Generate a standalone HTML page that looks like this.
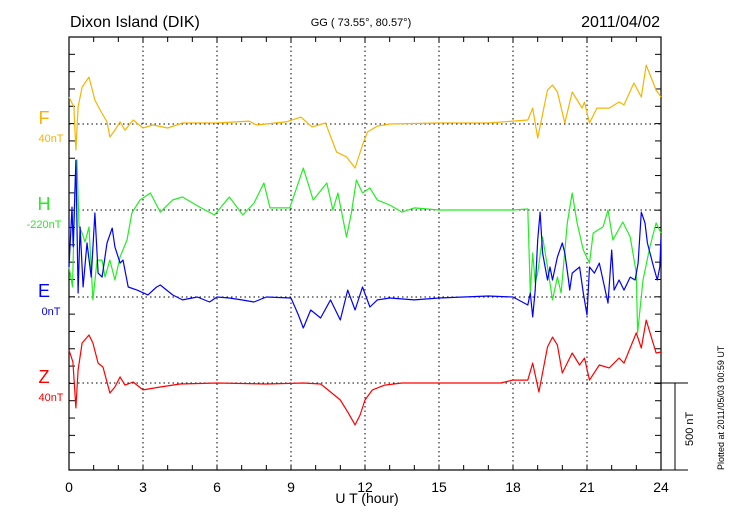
<!DOCTYPE html>
<html><head><meta charset="utf-8"><style>
html,body{margin:0;padding:0;background:#fff}
svg{display:block;font-family:"Liberation Sans",sans-serif}
</style></head><body>
<svg id="chart" width="730" height="520" viewBox="0 0 730 520" xmlns="http://www.w3.org/2000/svg">
<text x="70" y="27" font-size="16">Dixon Island (DIK)</text>
<text x="361" y="26" font-size="11" text-anchor="middle">GG ( 73.55°,  80.57°)</text>
<text x="660" y="27" font-size="16" text-anchor="end">2011/04/02</text>
<text x="367" y="503" font-size="14" text-anchor="middle">U T (hour)</text>
<text transform="translate(724,470) rotate(-90)" font-size="9">Plotted at 2011/05/03 00:59 UT</text>
<g id="axes"></g><g id="series"></g>
</svg>
<script>
const xTicks=[0,3,6,9,12,15,18,21,24];
const fT=[0,0.2,0.28,0.37,0.53,0.81,1.05,1.26,1.54,1.66,1.86,2.07,2.27,2.6,3,3.4,4,4.6,6,7.3,7.6,8.8,9.4,9.85,10.4,10.85,11.25,11.6,11.9,12.1,12.5,13,15,17,18.6,18.8,19,19.4,19.6,19.8,20.1,20.4,20.8,20.9,21.1,21.4,21.9,22.3,22.5,22.9,23.2,23.4,23.8,24];
const fV=[156,98,-150,98,213,271,138,81,12,-75,-35,12,-35,23,-23,-6,-23,6,6,17,-6,12,40,-17,6,-162,-190,-254,-121,-46,-12,0,6,6,23,92,-81,196,225,185,6,185,92,127,6,92,92,127,110,237,156,340,196,156];
const hT=[0,0.14,0.25,0.32,0.41,0.53,0.65,0.81,0.97,1.14,1.34,1.46,1.66,1.86,2.07,2.35,2.55,2.88,3.3,3.7,4.2,4.6,5.3,5.9,6.5,7.05,7.5,7.9,8.15,8.95,9.5,9.9,10.45,10.7,10.9,11.25,11.45,11.65,11.9,12.2,12.5,13,13.5,14,15,18,18.6,18.7,18.8,18.9,19,19.2,19.4,19.6,19.8,19.95,20.2,20.4,20.6,20.85,21.1,21.25,21.45,21.65,21.85,22.05,22.45,22.75,23,23.05,23.27,23.55,23.8,24];
const hV=[-329,-444,173,289,-98,-133,-185,-98,-519,-289,-289,-387,-289,-404,-271,-173,-17,58,98,-12,58,75,17,-29,75,-29,40,156,12,12,242,58,156,0,98,-156,-17,173,98,127,58,29,-12,12,0,0,6,-479,-248,-421,-364,-156,-329,-519,-387,-479,-75,98,-75,-231,-306,-133,-115,-98,0,-173,-69,-156,-364,-710,-404,-213,-75,-133];
const eT=[0,0.12,0.17,0.28,0.37,0.45,0.57,0.73,0.9,1.05,1.18,1.34,1.54,1.75,1.86,2.07,2.19,2.4,2.76,3.2,3.55,3.7,4.2,4.6,5.2,5.7,6,6.5,7,7.5,8,9,9.3,9.5,9.8,10.2,10.6,11,11.3,11.6,11.9,12.2,12.5,13,14,15,17,18,18.6,18.7,18.8,18.9,19,19.1,19.2,19.4,19.5,19.6,19.8,20,20.1,20.25,20.3,20.4,20.7,20.85,21,21.1,21.3,21.5,21.65,21.85,22,22.1,22.3,22.5,22.75,22.95,23.07,23.2,23.35,23.45,23.7,23.85,23.95,24];
const eV=[173,519,289,790,23,404,58,312,115,485,138,115,312,398,289,196,213,58,40,12,58,69,12,-17,0,-29,0,-6,-17,-29,0,-6,-104,-179,-75,-121,-17,-133,40,-75,58,-58,-17,-6,-17,-6,6,0,-46,23,-115,40,329,490,254,98,173,98,231,312,254,98,40,138,173,23,-104,173,138,196,98,-35,271,40,98,40,115,98,196,490,427,312,173,98,173,346];
const zT=[0,0.16,0.28,0.37,0.53,0.81,0.97,1.18,1.38,1.66,1.86,2.07,2.27,2.6,3,3.7,4.5,6,8,9.5,10.2,10.5,11,11.3,11.6,11.8,12,12.3,12.8,13.5,17.5,18,18.6,18.8,19.05,19.4,19.6,19.8,20,20.4,20.7,20.9,21.1,21.5,21.9,22.3,22.5,23,23.2,23.4,23.8,24];
const zV=[190,121,-144,75,231,277,231,115,92,-58,-23,35,-12,6,-40,-23,-6,0,-6,0,-6,-40,-98,-167,-242,-185,-98,-40,-12,0,0,17,17,115,-52,208,265,219,58,173,104,144,17,104,87,144,115,289,202,363,173,179];
const ns="http://www.w3.org/2000/svg";
const L=69,R=661,T=37,B=470,pxPerNT=86.6/500;
const xs=h=>L+(R-L)*h/24;
const ys=(base,v)=>base-v*pxPerNT;
const ax=document.getElementById('axes'),sr=document.getElementById('series');
function mk(tag,at,parent){const e=document.createElementNS(ns,tag);for(const k in at)e.setAttribute(k,at[k]);parent.appendChild(e);return e;}
// grid
xTicks.slice(1,-1).forEach(h=>{const g=mk('line',{x1:xs(h),x2:xs(h),y1:T,y2:B,stroke:'#000','stroke-width':1,'stroke-dasharray':'1.5,3'},ax);

});
const bases=[124,210,297,383];
bases.forEach(b=>{const g=mk('line',{x1:L,x2:R,y1:b,y2:b,stroke:'#000','stroke-width':1,'stroke-dasharray':'1.5,3'},ax);

});
// frame
const fr=mk('rect',{x:L,y:T,width:R-L,height:B-T,fill:'none',stroke:'#000','stroke-width':1.2},ax);


for(let h=1;h<24;h++){mk('line',{x1:xs(h),x2:xs(h),y1:T,y2:T+5,stroke:'#000'},ax);mk('line',{x1:xs(h),x2:xs(h),y1:B,y2:B-5,stroke:'#000'},ax);}
for(let y=T+17.32;y<B-1;y+=17.32){mk('line',{x1:L,x2:L+6,y1:y,y2:y,stroke:'#000'},ax);mk('line',{x1:R,x2:R-6,y1:y,y2:y,stroke:'#000'},ax);}
xTicks.forEach(h=>{const t=mk('text',{x:xs(h),y:492,'font-size':14,'text-anchor':'middle'},ax);t.textContent=h;

});
// scale bar
mk('line',{x1:655,x2:688,y1:383,y2:383,stroke:'#000'},ax);
mk('line',{x1:675,x2:675,y1:383,y2:470,stroke:'#000'},ax);
mk('line',{x1:661,x2:688,y1:470,y2:470,stroke:'#000'},ax);
const sb=mk('text',{transform:'translate(693,446) rotate(-90)','font-size':11},ax);sb.textContent='500 nT';


// series
const series=[['F',fT,fV,124,'#f8b400','40nT'],['H',hT,hV,210,'#22ee22','-220nT'],['E',eT,eV,297,'#0000ff','0nT'],['Z',zT,zV,383,'#ff0000','40nT']];
series.forEach(([n,t,v,b,c,off])=>{
const d=t.map((h,i)=>(i?'L':'M')+xs(h).toFixed(1)+','+ys(b,v[i]).toFixed(1)).join('');
const p=mk('path',{d:d,fill:'none',stroke:c,'stroke-width':1.2,'stroke-linejoin':'round'},sr);


const a=mk('text',{x:44,y:b-0,'font-size':18,fill:c,'text-anchor':'middle'},ax);a.textContent=n;


const o=mk('text',{x:n==='H'?44:51,y:b+18,'font-size':11,fill:c,'text-anchor':'middle'},ax);o.textContent=off;


});
</script>
</body></html>
